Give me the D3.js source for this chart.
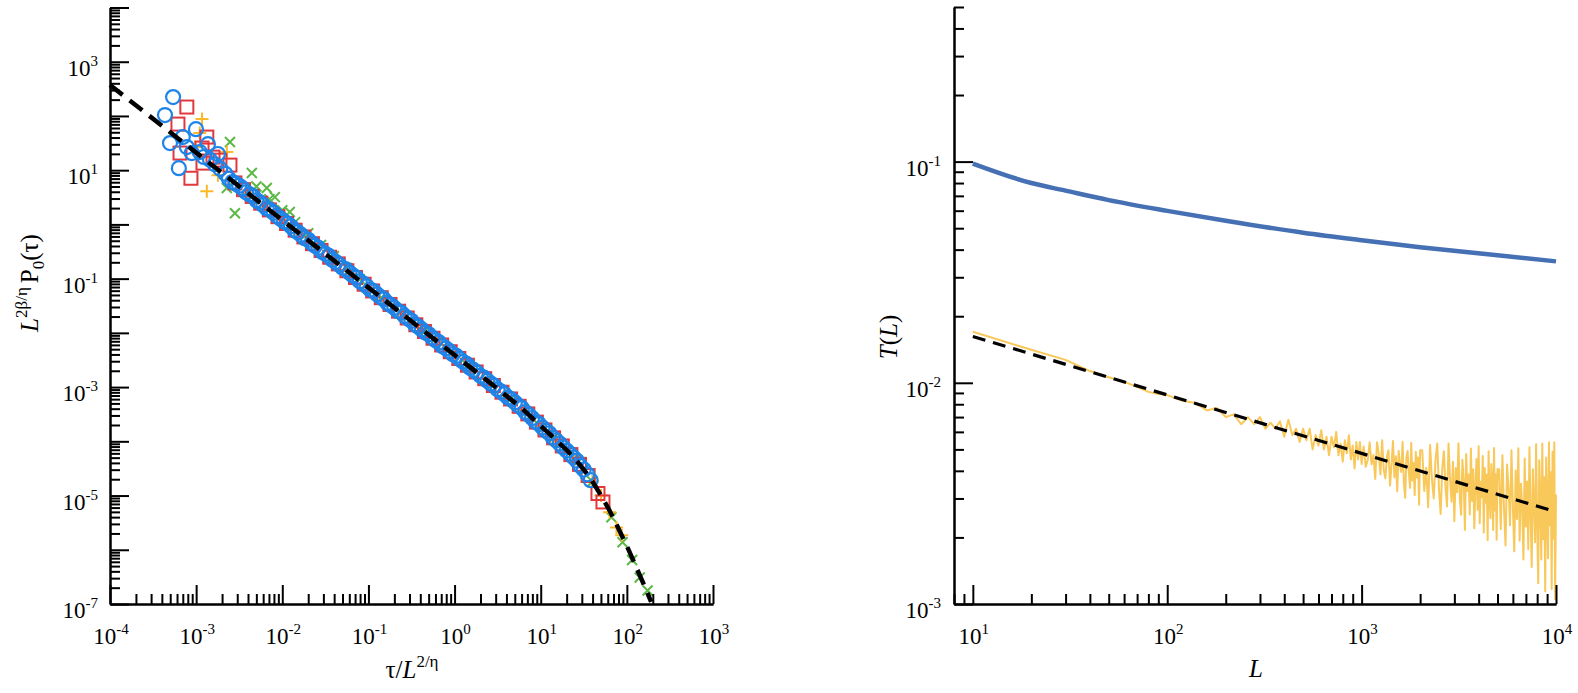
<!DOCTYPE html>
<html>
<head>
<meta charset="utf-8">
<script src="https://cdn.jsdelivr.net/npm/d3@7"></script>
<style>
  body { margin: 0; background: #fff; }
  svg { display: block; }
  svg text { font-family: "Liberation Serif", "Times New Roman", Times, serif; }
</style>
</head>
<body>
<svg id="chart" width="1578" height="693"></svg>
<script>
// ---------- left panel: scaled probability vs scaled time ----------
var fitCurveX = [1e-4, 0.01, 1, 3.98, 6.31, 7.94, 10, 12.6, 15.8, 20.0, 25.1, 31.6, 39.8, 50.1, 63.1, 79.4, 100, 126, 158, 191];
var fitCurveY = [372, 1.20, 3.89e-3, 6.92e-4, 3.80e-4, 2.69e-4, 1.91e-4, 1.38e-4, 9.77e-5, 6.92e-5, 4.68e-5, 3.02e-5, 1.82e-5, 1.00e-5, 5.25e-6, 2.51e-6, 1.17e-6, 5.13e-7, 2.24e-7, 1.10e-7];

var bluePts = [
  [4.35e-4,104],[5.4e-4,223],[4.97e-4,31.6],[6.3e-4,10.9],[9.95e-4,57],[7.0e-4,40.8],[7.8e-4,26.7],[8.9e-4,20.7],
  [1.37e-3,30.2],[1.1e-3,21.6],[1.23e-3,17.5],[1.79e-3,19.9],[1.45e-3,15.5],[1.65e-3,12.8],[1.9e-3,10.6],
  [2.19e-3,8.55],[2.63e-3,6.05],[3.16e-3,5.16],[3.80e-3,3.92],[4.57e-3,3.33],[5.50e-3,2.54],[6.61e-3,1.97],[7.94e-3,1.64],[9.55e-3,1.27],[1.15e-2,1.035],
  [1.38e-2,0.787],[1.66e-2,0.640],[2.00e-2,0.521],[2.40e-2,0.405],[2.88e-2,0.314],[3.47e-2,0.262],[4.17e-2,0.203],[5.01e-2,0.158],[6.03e-2,0.128],[7.24e-2,0.1045],
  [8.71e-2,0.0813],[0.105,0.0631],[0.126,0.0513],[0.151,0.0418],[0.182,0.0324],[0.219,0.0252],[0.263,0.0205],[0.316,0.0167],[0.380,0.0130],[0.457,0.0101],
  [0.550,8.20e-3],[0.661,6.67e-3],[0.794,5.18e-3],[0.955,4.03e-3],[1.15,3.27e-3],[1.38,2.67e-3],[1.66,2.07e-3],[2.00,1.61e-3],[2.40,1.31e-3],[2.88,1.064e-3],
  [3.47,8.28e-4],[4.17,6.43e-4],[5.01,5.23e-4],[6.03,4.13e-4],[7.24,3.09e-4],[8.71,2.29e-4],[10.5,1.79e-4],[12.6,1.41e-4],[15.1,1.047e-4],[18.2,7.76e-5],
  [21.9,5.89e-5],[26.3,4.39e-5],[31.6,3.02e-5],[38.0,1.92e-5],
  [2.40e-3,6.95],[2.88e-3,5.65],[3.47e-3,4.60],[4.17e-3,3.57],[5.01e-3,2.78],[6.03e-3,2.26],[7.24e-3,1.84],[8.71e-3,1.43],[1.05e-2,1.135],[1.26e-2,0.924],
  [1.51e-2,0.718],[1.82e-2,0.557],[2.19e-2,0.454],[2.63e-2,0.369],[3.16e-2,0.287],[3.80e-2,0.223],[4.57e-2,0.181],[5.50e-2,0.1476],[6.61e-2,0.1146],[7.94e-2,0.0890],
  [9.55e-2,0.0724],[0.115,0.0589],[0.138,0.0458],[0.166,0.0356],[0.200,0.0289],[0.240,0.0236],[0.288,0.0183],[0.347,0.0142],[0.417,0.01156],[0.501,9.41e-3],
  [0.603,7.31e-3],[0.724,5.68e-3],[0.871,4.62e-3],[1.05,3.76e-3],[1.26,2.92e-3],[1.51,2.27e-3],[1.82,1.85e-3],[2.19,1.50e-3],[2.63,1.167e-3],[3.16,9.07e-4],
  [3.80,7.38e-4],[4.57,5.92e-4],[5.50,4.55e-4],[6.61,3.47e-4],[7.94,2.69e-4],[9.55,2.09e-4],[11.5,1.57e-4],[13.8,1.175e-4],[16.6,9.12e-5],[20.0,6.76e-5],
  [24.0,5.06e-5],[28.8,3.52e-5],[34.7,2.47e-5]
];

var redPts = [
  [7.8e-4,146],[6.15e-4,70.8],[6.5e-4,20.7],[8.7e-4,7.1],[1.33e-3,40.8],[1.17e-3,25.6],[1.2e-3,13.5],[1.57e-3,17.4],[1.89e-3,15.3],[2.47e-3,12.4],
  [2.82e-3,5.82],[3.55e-3,4.37],[4.47e-3,3.28],[5.62e-3,2.46],[7.08e-3,1.85],[8.91e-3,1.39],[1.12e-2,1.04],[1.41e-2,0.782],[1.78e-2,0.587],[2.24e-2,0.441],
  [2.82e-2,0.331],[3.55e-2,0.248],[4.47e-2,0.187],[5.62e-2,0.140],[7.08e-2,0.105],[8.91e-2,0.0789],[0.112,0.0593],[0.141,0.0445],[0.178,0.0334],[0.224,0.0251],
  [0.282,0.0188],[0.355,0.0141],[0.447,0.0106],[0.562,7.96e-3],[0.708,5.98e-3],[0.891,4.49e-3],[1.12,3.37e-3],[1.41,2.53e-3],[1.78,1.90e-3],[2.24,1.43e-3],
  [2.82,1.07e-3],[3.55,8.04e-4],[4.47,6.04e-4],[5.62,4.42e-4],[7.08,3.20e-4],[8.91,2.26e-4],[11.2,1.62e-4],[14.1,1.16e-4],[17.8,8.22e-5],[22.4,5.69e-5],
  [28.2,3.76e-5],[35.5,2.34e-5],[46.2,1.09e-5],[52.8,7.62e-6]
];

var orangePts = [
  [1.17e-3,87.7],[1.33e-3,4.1],[9.7e-4,26.7],[2.27e-3,21.6],[1.79e-3,8.1],[1.1e-3,48.3],
  [3.98e-3,3.78],[6.31e-3,2.13],[0.01,1.20],[0.0158,0.678],[0.0251,0.382],[0.0398,0.215],[0.0631,0.121],[0.1,0.0684],[0.158,0.0385],[0.251,0.0217],
  [0.398,0.01225],[0.631,6.90e-3],[1.0,3.89e-3],[1.58,2.19e-3],[2.51,1.24e-3],[3.98,6.92e-4],[6.31,3.80e-4],[10,1.91e-4],[15.8,9.77e-5],[25.1,4.68e-5],
  [39.8,1.82e-5],[50.1,1.0e-5],[63.1,4.9e-6],[75.9,2.57e-6],[87.1,1.86e-6]
];

var greenPts = [
  [2.47e-3,33],[2.27e-3,4.7],[2.82e-3,1.61],[4.43e-3,8.9],[6.6e-3,4.7],[8.2e-3,3.19],[1.22e-2,1.69],
  [5.01e-3,5.01],[7.08e-3,2.93],[0.01,1.82],[0.0141,1.10],[0.02,0.686],[0.0282,0.417],[0.0398,0.259],[0.0562,0.157],[0.0794,0.0977],
  [0.141,0.0445],[0.251,0.0217],[0.447,0.0106],[0.794,5.18e-3],[1.41,2.53e-3],[2.51,1.24e-3],[4.47,6.04e-4],[7.94,2.69e-4],[14.1,1.16e-4],[25.1,4.68e-5],[39.8,1.82e-5],
  [66.1,3.98e-6],[89.1,1.38e-6],[115,6.46e-7],[141,3.09e-7],[174,1.78e-7]
];

// ---------- right panel: T(L) ----------
var upperL = [10, 20, 30, 50, 100, 200, 500, 1000, 2000, 5000, 10000];
var upperT = [0.098, 0.080, 0.0739, 0.067, 0.0599, 0.0540, 0.0477, 0.0441, 0.0410, 0.0377, 0.0354];

var fitL = [10, 10000];
var fitT = [0.0162, 0.00261];

var lowerL = [
  10,20,30,40,50,60,70,80,90,100,
  120,140,160,180,200,220,240,260,280,300,320,340,360,380,400,420,440,460,480,500,
  520,540,560,580,600,620,640,660,680,700,720,740,760,780,800,820,840,860,880,900,920,940,960,980,1000,
  1025,1050,1075,1100,1125,1150,1175,1200,1225,1250,1275,1300,1325,1350,1375,1400,1425,1450,1475,1500,
  1525,1550,1575,1600,1625,1650,1675,1700,1725,1750,1775,1800,1825,1850,1875,1900,1925,1950,1975,2000,
  2050,2100,2150,2200,2250,2300,2350,2400,2450,2500,2550,2600,2650,2700,2750,2800,2850,2900,2950,3000,
  3050,3100,3150,3200,3250,3300,3350,3400,3450,3500,3550,3600,3650,3700,3750,3800,3850,3900,3950,4000,
  4050,4100,4150,4200,4250,4300,4350,4400,4450,4500,4550,4600,4650,4700,4750,4800,4850,4900,4950,5000,
  5100,5200,5300,5400,5500,5600,5700,5800,5900,6000,6100,6200,6300,6400,6500,6600,6700,6800,6900,7000,
  7100,7200,7300,7400,7500,7600,7700,7800,7900,8000,8100,8200,8300,8400,8500,8600,8700,8800,8900,9000,
  9100,9200,9300,9400,9500,9600,9700,9800,9900,10000
];
var lowerT = [
  0.0170,0.0141,0.0127,0.0113,0.0106,0.0101,0.0096,0.0091,0.0089,0.0088,
  0.0083,0.0081,0.0075,0.0077,0.0070,0.0072,0.0065,0.0070,0.0065,0.0070,
  0.0062,0.0066,0.0062,0.0067,0.0057,0.0068,0.0058,0.0062,0.0054,0.0062,
  0.0055,0.0062,0.0050,0.0058,0.0052,0.0061,0.0050,0.0057,0.0047,0.0057,
  0.0051,0.0060,0.0047,0.0053,0.0044,0.0055,0.0048,0.0058,0.0045,0.0052,
  0.0041,0.0054,0.0045,0.0054,0.0043,
  0.00515,0.00417,0.00447,0.00538,0.00428,0.00472,0.00368,0.00539,0.00478,0.00385,
  0.00550,0.00403,0.00370,0.00466,0.00495,0.00343,0.00425,0.00545,0.00373,0.00465,
  0.00323,0.00492,0.00426,0.00395,0.00541,0.00354,0.00302,0.00460,0.00492,0.00394,
  0.00335,0.00536,0.00362,0.00434,0.00310,0.00487,0.00373,0.00459,0.00281,0.00496,
  0.00496,0.00324,0.00413,0.00274,0.00524,0.00367,0.00300,0.00450,0.00531,0.00332,
  0.00255,0.00411,0.00491,0.00340,0.00276,0.00531,0.00371,0.00290,0.00440,0.00237,
  0.00412,0.00320,0.00533,0.00301,0.00253,0.00449,0.00366,0.00216,0.00477,0.00324,
  0.00385,0.00254,0.00505,0.00292,0.00407,0.00220,0.00344,0.00452,0.00267,0.00516,
  0.00232,0.00357,0.00304,0.00467,0.00210,0.00412,0.00287,0.00384,0.00194,0.00491,
  0.00309,0.00244,0.00429,0.00338,0.00216,0.00507,0.00265,0.00386,0.00195,0.00408,
  0.00406,0.00218,0.00470,0.00271,0.00184,0.00427,0.00333,0.00227,0.00495,0.00275,
  0.00173,0.00401,0.00242,0.00506,0.00193,0.00350,0.00276,0.00159,0.00455,0.00224,
  0.00358,0.00177,0.00511,0.00255,0.00147,0.00407,0.00294,0.00190,0.00528,0.00222,
  0.00124,0.00446,0.00308,0.00159,0.00532,0.00196,0.00374,0.00114,0.00459,0.00264,
  0.00161,0.00539,0.00227,0.00394,0.00117,0.00488,0.00198,0.00539,0.00105,0.00313
];

// tick label exponents
var leftXExp = [-4, -3, -2, -1, 0, 1, 2, 3];
var leftYExp = [3, 1, -1, -3, -5, -7];
var rightXExp = [1, 2, 3, 4];
var rightYExp = [-1, -2, -3];

var svg = d3.select('#chart');
var SERIF = '"Liberation Serif", "Times New Roman", Times, serif';

var xA = d3.scaleLog().domain([1e-4, 1e3]).range([110, 713]);
var yA = d3.scaleLog().domain([1e-7, 1e4]).range([604, 7.5]);
var xB = d3.scaleLog().domain([8, 1e4]).range([954, 1556]);
var yB = d3.scaleLog().domain([1e-3, 0.5]).range([604, 7]);

function logTicks(scale) {
  var d = scale.domain(), major = [], minor = [];
  var lo = Math.floor(Math.log10(d[0])), hi = Math.ceil(Math.log10(d[1]));
  for (var e = lo; e <= hi; e++) {
    for (var k = 1; k <= 9; k++) {
      var v = k * Math.pow(10, e);
      if (v < d[0] * 0.999 || v > d[1] * 1.001) continue;
      (k === 1 ? major : minor).push(v);
    }
  }
  return {major: major, minor: minor};
}

function drawAxis(axisFn, scale, tx, ty) {
  var t = logTicks(scale);
  var g = svg.append('g').attr('transform', 'translate(' + tx + ',' + ty + ')');
  g.append('g').call(axisFn(scale).tickValues(t.minor).tickSize(-10).tickSizeOuter(0).tickFormat(''));
  g.append('g').call(axisFn(scale).tickValues(t.major).tickSize(-19).tickSizeOuter(0).tickFormat(''));
  g.selectAll('path, line').attr('stroke', '#000').attr('stroke-width', 2);
}

function powLabel(x, y, exp, anchor) {
  var t = svg.append('text').attr('x', x).attr('y', y).attr('font-family', SERIF)
    .attr('text-anchor', anchor).attr('font-size', 23).attr('fill', '#000');
  t.append('tspan').text('10');
  t.append('tspan').attr('dy', -10).attr('font-size', 15).text(String(exp));
}

// ----- left panel -----
var lineA = d3.line().x(function(d){ return xA(d[0]); }).y(function(d){ return yA(d[1]); });

var green = svg.append('g').attr('stroke', '#5cb946').attr('stroke-width', 2).attr('fill', 'none');
green.selectAll('path').data(greenPts).enter().append('path')
  .attr('transform', function(d){ return 'translate(' + xA(d[0]) + ',' + yA(d[1]) + ')'; })
  .attr('d', 'M-5,-5L5,5M-5,5L5,-5');

var orange = svg.append('g').attr('stroke', '#fbb829').attr('stroke-width', 2).attr('fill', 'none');
orange.selectAll('path').data(orangePts).enter().append('path')
  .attr('transform', function(d){ return 'translate(' + xA(d[0]) + ',' + yA(d[1]) + ')'; })
  .attr('d', 'M-6.5,0H6.5M0,-6.5V6.5');

var red = svg.append('g').attr('stroke', '#e2383d').attr('stroke-width', 2).attr('fill', 'none');
red.selectAll('rect').data(redPts).enter().append('rect')
  .attr('x', function(d){ return xA(d[0]) - 6.5; })
  .attr('y', function(d){ return yA(d[1]) - 6.5; })
  .attr('width', 13).attr('height', 13);

var blue = svg.append('g').attr('stroke', '#1e84e8').attr('stroke-width', 2.2).attr('fill', 'none');
blue.selectAll('circle').data(bluePts).enter().append('circle')
  .attr('cx', function(d){ return xA(d[0]); })
  .attr('cy', function(d){ return yA(d[1]); })
  .attr('r', 7);

svg.append('path')
  .datum(fitCurveX.map(function(x, i){ return [x, fitCurveY[i]]; }))
  .attr('d', lineA.curve(d3.curveMonotoneX))
  .attr('fill', 'none').attr('stroke', '#000').attr('stroke-width', 4.5)
  .attr('stroke-dasharray', '16,9');

drawAxis(d3.axisBottom, xA, 0, 604);
drawAxis(d3.axisLeft, yA, 110, 0);

leftXExp.forEach(function(e){ powLabel(xA(Math.pow(10, e)) + 1, 644, e, 'middle'); });
leftYExp.forEach(function(e){ powLabel(98, yA(Math.pow(10, e)) + 14, e, 'end'); });

var tA = svg.append('text').attr('x', 412).attr('y', 678).attr('text-anchor', 'middle')
  .attr('font-family', SERIF).attr('font-size', 25);
tA.append('tspan').text('\u03c4/');
tA.append('tspan').attr('font-style', 'italic').text('L');
tA.append('tspan').attr('dy', -11).attr('font-size', 17).text('2/\u03b7');

var yLab = svg.append('text').attr('transform', 'translate(38,283) rotate(-90)')
  .attr('text-anchor', 'middle').attr('font-family', SERIF).attr('font-size', 25);
yLab.append('tspan').attr('font-style', 'italic').text('L');
yLab.append('tspan').attr('dy', -11).attr('font-size', 17).text('2\u03b2/\u03b7');
yLab.append('tspan').attr('dy', 11).attr('dx', 4).text('P');
yLab.append('tspan').attr('dy', 6).attr('font-size', 17).text('0');
yLab.append('tspan').attr('dy', -6).text('(\u03c4)');

// ----- right panel -----
var lineB = d3.line().x(function(d){ return xB(d[0]); }).y(function(d){ return yB(d[1]); });

svg.append('path')
  .datum(lowerL.map(function(l, i){ return [l, lowerT[i]]; }))
  .attr('d', lineB)
  .attr('fill', 'none').attr('stroke', '#f9c85a').attr('stroke-width', 2)
  .attr('stroke-linejoin', 'round');

svg.append('path')
  .datum(fitL.map(function(l, i){ return [l, fitT[i]]; }))
  .attr('d', lineB)
  .attr('fill', 'none').attr('stroke', '#000').attr('stroke-width', 3.2)
  .attr('stroke-dasharray', '13,8');

svg.append('path')
  .datum(upperL.map(function(l, i){ return [l, upperT[i]]; }))
  .attr('d', d3.line().x(function(d){ return xB(d[0]); }).y(function(d){ return yB(d[1]); }).curve(d3.curveMonotoneX))
  .attr('fill', 'none').attr('stroke', '#4670b4').attr('stroke-width', 4.5);

drawAxis(d3.axisBottom, xB, 0, 604);
drawAxis(d3.axisLeft, yB, 954, 0);

rightXExp.forEach(function(e){ powLabel(xB(Math.pow(10, e)) + 1, 644, e, 'middle'); });
rightYExp.forEach(function(e){ powLabel(941, yB(Math.pow(10, e)) + 14, e, 'end'); });

svg.append('text').attr('x', 1256).attr('y', 677).attr('text-anchor', 'middle')
  .attr('font-family', SERIF).attr('font-size', 25).attr('font-style', 'italic').text('L');

var tB = svg.append('text').attr('transform', 'translate(897,337) rotate(-90)')
  .attr('text-anchor', 'middle').attr('font-family', SERIF).attr('font-size', 25);
tB.append('tspan').attr('font-style', 'italic').text('T');
tB.append('tspan').text('(');
tB.append('tspan').attr('font-style', 'italic').text('L');
tB.append('tspan').text(')');
</script>
</body>
</html>
